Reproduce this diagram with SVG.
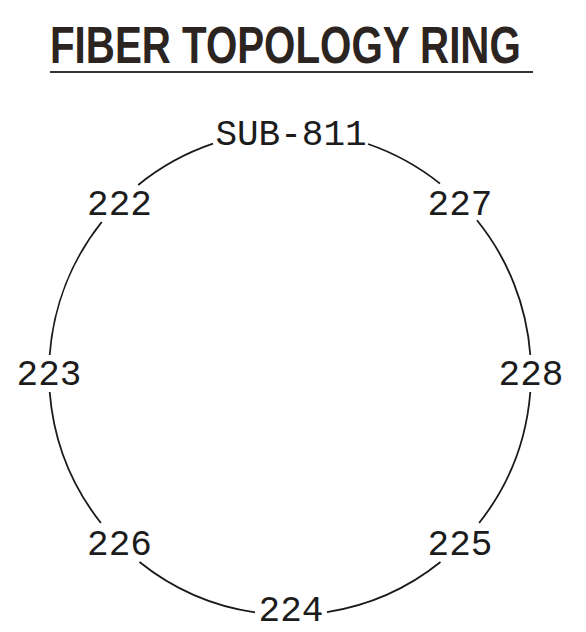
<svg xmlns="http://www.w3.org/2000/svg" width="586" height="632" viewBox="0 0 586 632">
<style>
.title{font-family:"Liberation Sans",Arial,sans-serif;font-weight:bold;font-size:52px;fill:#2b2420}
.lbl{font-family:"Liberation Mono","DejaVu Sans Mono",monospace;font-size:36px;fill:#1c1c1c;text-anchor:middle}
.arc{fill:none;stroke:#1a1a1a;stroke-width:1.8}
</style>
<rect width="586" height="632" fill="#ffffff"/>
<g id="title">
<text class="title" transform="translate(50,63) scale(0.775,1)" x="0" y="0">FIBER TOPOLOGY RING</text>
<line x1="50" y1="72" x2="533" y2="72" stroke="#3a302c" stroke-width="2.2"/>
</g>
<g id="connectors">
<path class="arc" d="M368,144 A241,242 0 0 1 440,183.6"/>
<path class="arc" d="M477,220.3 A241,242 0 0 1 530.3,355"/>
<path class="arc" d="M530.3,392 A241,242 0 0 1 479.1,523"/>
<path class="arc" d="M440.5,562 A241,242 0 0 1 327,612.1"/>
<path class="arc" d="M255,612.4 A241,242 0 0 1 139.5,562"/>
<path class="arc" d="M100.9,523 A241,242 0 0 1 49.7,392"/>
<path class="arc" d="M49.7,355 A241,242 0 0 1 101.7,222"/>
<path class="arc" d="M138.2,185 A241,242 0 0 1 213,143.7"/>
</g>
<g id="node-sub811"><text class="lbl" x="291" y="145">SUB-811</text></g>
<g id="node-227"><text class="lbl" x="460" y="215">227</text></g>
<g id="node-228"><text class="lbl" x="531" y="385">228</text></g>
<g id="node-225"><text class="lbl" x="460" y="555">225</text></g>
<g id="node-224"><text class="lbl" x="291" y="621" font-size="35">224</text></g>
<g id="node-226"><text class="lbl" x="119.5" y="555">226</text></g>
<g id="node-223"><text class="lbl" x="49" y="385">223</text></g>
<g id="node-222"><text class="lbl" x="119.5" y="215">222</text></g>
</svg>
